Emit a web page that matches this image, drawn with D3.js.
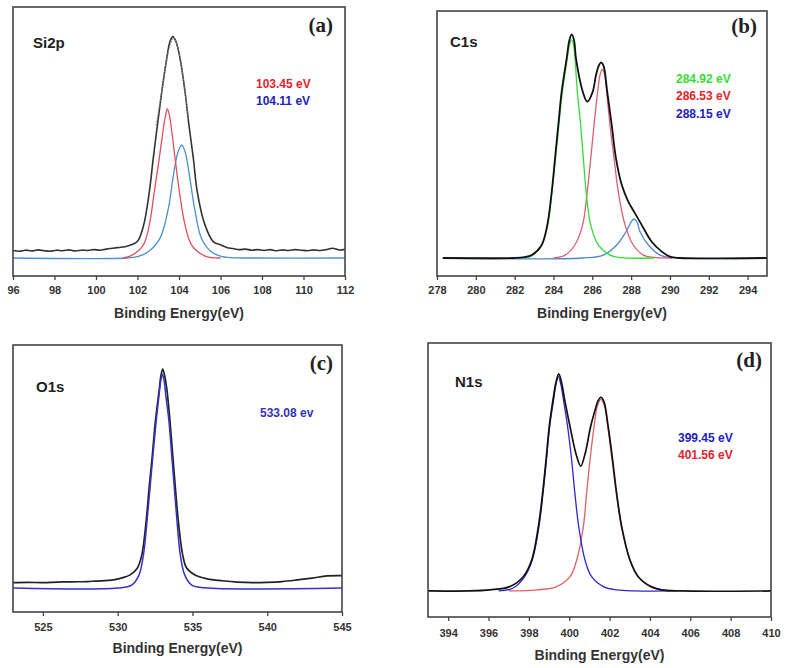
<!DOCTYPE html>
<html><head><meta charset="utf-8">
<script src="https://cdn.jsdelivr.net/npm/d3@7"></script>
<style>body{margin:0;background:#fff}</style></head>
<body>
<svg id="chart" width="789" height="668"></svg>
<script>
// ---------- DATA (binding energy eV, relative intensity %) ----------
const siTicks = [96, 98, 100, 102, 104, 106, 108, 110, 112];
const siMeasured = [[96.0,9.5],[96.3,9.2],[96.6,9.6],[96.9,9.3],[97.2,9.7],[97.5,9.4],[97.8,9.2],[98.1,9.6],[98.4,9.4],[98.7,9.7],[99.0,9.3],[99.3,9.6],[99.6,9.5],[99.9,9.8],[100.2,9.6],[100.5,10.0],[100.8,10.3],[101.1,10.6],[101.4,10.9],[101.7,11.6],[102.0,12.9],[102.3,19.0],[102.57,31.3],[102.76,43.8],[102.96,56.1],[103.17,68.5],[103.41,80.9],[103.56,87.0],[103.7,89.0],[103.86,87.0],[104.05,80.9],[104.29,68.5],[104.48,56.1],[104.69,43.8],[104.88,31.3],[105.25,19.0],[105.65,12.8],[106.0,11.6],[106.3,10.6],[106.6,10.2],[106.9,9.8],[107.2,10.0],[107.5,9.6],[107.8,9.8],[108.1,9.5],[108.4,9.8],[108.7,9.4],[109.0,9.7],[109.3,9.5],[109.6,9.8],[109.9,9.6],[110.2,9.4],[110.5,9.7],[110.8,9.5],[111.1,9.8],[111.4,10.3],[111.7,9.7],[112.0,9.9]];
const siEnvelope = [[102.9,56],[103.2,70],[103.5,84],[103.75,88.6],[104.0,83],[104.25,71],[104.45,58]];
const siPeak1 = [[101.3,6.7],[101.7,7.6],[102.28,11.5],[102.57,19.0],[102.81,31.3],[103.05,43.8],[103.25,55.0],[103.36,60.0],[103.44,62.1],[103.53,60.0],[103.63,55.0],[103.81,43.8],[104.02,31.3],[104.29,19.0],[104.61,11.5],[105.2,7.6],[105.6,6.8],[106.0,6.7]];
const siPeak2 = [[96.0,6.7],[101.5,6.7],[102.0,7.2],[102.52,9.0],[103.08,14.0],[103.49,25.2],[103.73,37.5],[103.95,46.0],[104.13,48.7],[104.3,46.0],[104.5,37.5],[104.75,25.2],[105.08,14.0],[105.55,9.0],[106.0,7.4],[106.5,6.8],[107.0,6.7],[112.0,6.7]];
const siLabels = ["103.45 eV", "104.11 eV"];

const cTicks = [278, 280, 282, 284, 286, 288, 290, 292, 294];
const cMeasured = [[278.3,6.8],[282.0,6.8],[282.5,7.1],[282.88,7.9],[283.39,11.7],[283.68,19.2],[283.91,31.8],[284.08,44.4],[284.25,57.0],[284.42,69.5],[284.68,82.1],[284.82,89.0],[284.94,91.2],[285.06,89.0],[285.16,82.1],[285.51,69.5],[285.74,65.8],[286.02,69.5],[286.19,75.8],[286.33,79.3],[286.45,80.6],[286.58,79.3],[286.77,69.5],[287.0,57.0],[287.22,44.4],[287.52,34.3],[287.86,28.0],[288.15,24.3],[288.55,19.2],[289.06,12.9],[289.58,9.2],[290.0,7.3],[290.5,6.8],[295.0,6.8]];
const cPeak1 = [[282.5,6.8],[282.9,7.7],[283.39,11.5],[283.7,19.0],[283.92,31.5],[284.1,44.0],[284.27,56.5],[284.45,69.0],[284.7,81.5],[284.83,87.3],[284.94,89.1],[285.04,87.0],[285.1,83.0],[285.23,69.5],[285.4,57.0],[285.54,44.4],[285.68,31.8],[285.92,19.2],[286.31,11.7],[286.91,7.9],[287.5,6.9],[289.2,6.8]];
const cPeak2 = [[284.0,6.8],[284.6,7.9],[285.1,11.7],[285.5,19.2],[285.74,31.8],[285.92,44.4],[286.09,57.0],[286.3,71.0],[286.41,76.2],[286.52,78.0],[286.63,76.2],[286.72,71.0],[286.91,57.0],[287.12,44.4],[287.34,31.8],[287.69,19.2],[288.11,11.7],[288.63,7.9],[289.2,7.0],[290.1,6.8]];
const cPeak3 = [[278.3,6.8],[285.5,6.8],[286.57,7.9],[287.26,11.7],[287.74,16.7],[288.02,20.6],[288.15,21.5],[288.3,20.4],[288.46,16.7],[288.89,11.7],[289.49,7.9],[290.2,6.9],[295.0,6.8]];
const cLabels = ["284.92 eV", "286.53 eV", "288.15 eV"];

const oTicks = [525, 530, 535, 540, 545];
const oMeasured = [[523,11.0],[524,11.1],[525,11.0],[526,11.2],[527,11.3],[528,11.4],[528.5,11.6],[529.71,12.0],[530.3,12.8],[530.83,13.9],[531.31,16.4],[531.61,21.3],[531.9,33.8],[532.1,46.3],[532.32,58.8],[532.52,71.3],[532.79,83.8],[532.9,88.8],[533.01,91.0],[533.14,88.5],[533.28,83.8],[533.5,71.3],[533.68,58.8],[533.86,46.3],[534.06,33.8],[534.35,21.3],[534.62,16.4],[535.17,13.9],[536,12.4],[537,11.7],[538,11.2],[539,11.0],[540,11.1],[541,11.4],[542,12.0],[543,12.7],[544,13.5],[545,13.6]];
const oPeak1 = [[523,9.0],[530,9.0],[530.94,10.1],[531.43,13.9],[531.72,21.3],[531.96,33.8],[532.16,46.3],[532.36,58.8],[532.57,71.3],[532.78,82.0],[532.89,86.9],[532.99,89.0],[533.1,86.9],[533.2,82.0],[533.43,71.3],[533.61,58.8],[533.79,46.3],[533.97,33.8],[534.19,21.3],[534.48,13.9],[534.95,10.1],[535.8,9.1],[545,9.0]];
const oLabels = ["533.08 ev"];

const nTicks = [394, 396, 398, 400, 402, 404, 406, 408, 410];
const nMeasured = [[393,9.5],[395,9.5],[396.07,9.9],[397.06,11.1],[397.72,14.7],[398.14,20.8],[398.47,33.0],[398.68,45.1],[398.85,57.3],[399.01,69.5],[399.2,79.5],[399.34,85.5],[399.48,88.7],[399.62,85.5],[399.78,79.0],[400.04,69.5],[400.33,59.7],[400.57,55.1],[400.79,59.7],[401.06,69.5],[401.28,75.5],[401.42,78.8],[401.57,80.2],[401.72,78.6],[401.93,69.5],[402.15,57.3],[402.35,45.1],[402.6,33.0],[403.01,20.8],[403.42,14.7],[404.05,11.1],[404.58,9.9],[405.5,9.5],[410,9.5]];
const nPeak1 = [[396.5,9.5],[397.2,10.5],[397.75,14.3],[398.16,20.6],[398.5,33.0],[398.7,45.1],[398.87,57.3],[399.03,69.5],[399.22,79.0],[399.34,84.8],[399.46,87.7],[399.58,85.0],[399.72,79.0],[399.92,69.5],[400.12,57.3],[400.28,45.1],[400.47,33.0],[400.78,20.8],[401.11,14.7],[401.69,11.1],[402.35,9.9],[403.2,9.5],[405,9.5]];
const nPeak2 = [[397,9.5],[398.39,9.9],[399.38,11.1],[400.04,14.7],[400.37,20.8],[400.7,33.0],[400.86,45.1],[401.03,57.3],[401.23,69.5],[401.4,77.2],[401.57,79.4],[401.74,77.2],[401.9,70.0],[402.12,57.5],[402.33,45.3],[402.58,33.2],[403.0,21.0],[403.4,14.8],[404.0,11.1],[404.55,9.9],[405.3,9.5]];
const nLabels = ["399.45 eV", "401.56 eV"];

// ---------- LAYOUT ----------
const panels = [
  { box:{l:13,r:345,t:7,b:276}, domain:[96,112], ticks:siTicks, pad:6, titleY:318,
    series:[
      {d:siPeak2, c:"#4a90d0", w:1.3},
      {d:siPeak1, c:"#e0505e", w:1.3},
      {d:siMeasured, c:"#333333", w:1.6},
      {d:siEnvelope, c:"#888888", w:1.2, dash:"1.5,1.5"}
    ],
    elem:{t:"Si2p", x:33, y:48}, letter:{t:"(a)", x:333, y:32},
    labels:[{t:siLabels[0], c:"#e3242b", x:256, y:88},{t:siLabels[1], c:"#2222bb", x:256, y:105}] },
  { box:{l:437,r:767,t:11,b:276}, domain:[278,295], ticks:cTicks, pad:6, titleY:318,
    series:[
      {d:cPeak3, c:"#4a88d0", w:1.3},
      {d:cPeak2, c:"#d86070", w:1.3},
      {d:cPeak1, c:"#33dd33", w:1.3},
      {d:cMeasured, c:"#111111", w:1.8}
    ],
    elem:{t:"C1s", x:450, y:47}, letter:{t:"(b)", x:757, y:33},
    labels:[{t:cLabels[0], c:"#33dd33", x:676, y:83},{t:cLabels[1], c:"#e3242b", x:676, y:100},{t:cLabels[2], c:"#2222bb", x:676, y:118}] },
  { box:{l:13,r:342,t:345,b:612}, domain:[523,545], ticks:oTicks, pad:7, titleY:653,
    series:[
      {d:oMeasured, c:"#222222", w:1.7},
      {d:oPeak1, c:"#3333c8", w:1.5}
    ],
    elem:{t:"O1s", x:36, y:392}, letter:{t:"(c)", x:333, y:370},
    labels:[{t:oLabels[0], c:"#3333bb", x:260, y:417}] },
  { box:{l:428,r:771,t:343,b:617}, domain:[393,410], ticks:nTicks, pad:8, titleY:660,
    series:[
      {d:nPeak2, c:"#e06068", w:1.3},
      {d:nPeak1, c:"#2a2ad0", w:1.3},
      {d:nMeasured, c:"#111111", w:1.7}
    ],
    elem:{t:"N1s", x:455, y:387}, letter:{t:"(d)", x:762, y:367},
    labels:[{t:nLabels[0], c:"#2222bb", x:678, y:442},{t:nLabels[1], c:"#e3242b", x:678, y:459}] }
];

const svg = d3.select("#chart");
const sans = "'Liberation Sans', Arial, sans-serif";
const serif = "'Liberation Serif', 'Times New Roman', serif";

panels.forEach((p, i) => {
  const b = p.box;
  const x = d3.scaleLinear().domain(p.domain).range([b.l, b.r]);
  const y = d3.scaleLinear().domain([0, 100]).range([b.b, b.t]);
  const g = svg.append("g");
  const clipId = "clip" + i;
  g.append("clipPath").attr("id", clipId).append("rect")
    .attr("x", b.l).attr("y", b.t).attr("width", b.r - b.l).attr("height", b.b - b.t);

  const line = d3.line().x(d => x(d[0])).y(d => y(d[1])).curve(d3.curveCatmullRom.alpha(0.5));
  const cg = g.append("g").attr("clip-path", `url(#${clipId})`);
  p.series.forEach(s => {
    cg.append("path").datum(s.d).attr("d", line)
      .attr("fill", "none").attr("stroke", s.c).attr("stroke-width", s.w)
      .attr("stroke-linejoin", "round")
      .attr("stroke-dasharray", s.dash || null);
  });

  // frame
  g.append("rect").attr("x", b.l).attr("y", b.t).attr("width", b.r - b.l).attr("height", b.b - b.t)
    .attr("fill", "none").attr("stroke", "#444").attr("stroke-width", 1.6);

  // axis
  const ax = g.append("g").attr("transform", `translate(0,${b.b})`)
    .call(d3.axisBottom(x).tickValues(p.ticks).tickFormat(d3.format("d")).tickSize(4).tickSizeOuter(0).tickPadding(p.pad));
  ax.select(".domain").remove();
  ax.selectAll(".tick line").attr("stroke", "#444").attr("stroke-width", 1.3);
  ax.selectAll(".tick text").attr("fill", "#333").attr("font-family", sans)
    .attr("font-weight", "bold").attr("font-size", 11);

  g.append("text").attr("x", (b.l + b.r) / 2).attr("y", p.titleY).attr("text-anchor", "middle")
    .attr("font-family", sans).attr("font-weight", "bold").attr("font-size", 14).attr("fill", "#333")
    .text("Binding Energy(eV)");

  g.append("text").attr("x", p.elem.x).attr("y", p.elem.y)
    .attr("font-family", sans).attr("font-weight", "bold").attr("font-size", 15).attr("fill", "#222")
    .text(p.elem.t);

  g.append("text").attr("x", p.letter.x).attr("y", p.letter.y).attr("text-anchor", "end")
    .attr("font-family", serif).attr("font-weight", "bold").attr("font-size", 21).attr("fill", "#222")
    .text(p.letter.t);

  p.labels.forEach(l => {
    g.append("text").attr("x", l.x).attr("y", l.y)
      .attr("font-family", sans).attr("font-weight", "bold").attr("font-size", 12).attr("fill", l.c)
      .text(l.t);
  });
});
</script>
</body></html>
